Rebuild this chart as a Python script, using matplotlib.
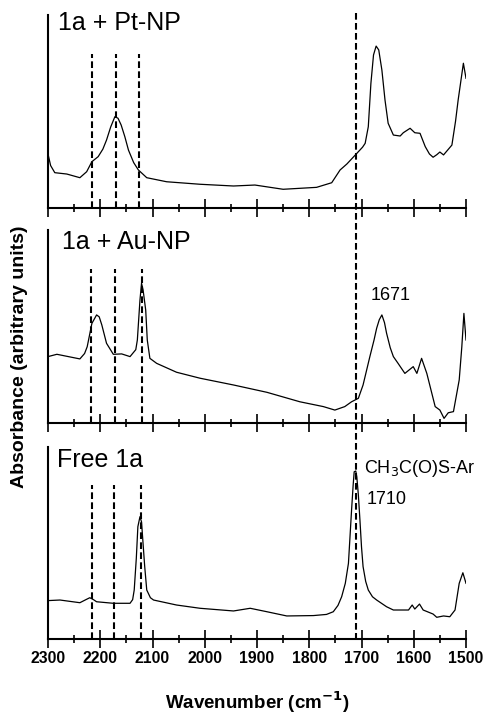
import matplotlib
matplotlib.use("Agg")
import matplotlib.pyplot as plt
from matplotlib.lines import Line2D
from matplotlib.ticker import MultipleLocator
import matplotlib.transforms as mtransforms

plt.rcParams['font.family'] = ['Liberation Sans', 'DejaVu Sans']

# ---------------- data (wavenumber in cm-1, absorbance arbitrary 0-100) ----------------
pt_wn = [2300, 2295, 2287, 2264, 2239, 2226, 2216, 2204, 2195, 2188, 2180, 2172, 2166, 2160,
         2153, 2146, 2136, 2127, 2111, 2073, 2009, 1945, 1904, 1850, 1786, 1757, 1741, 1728,
         1709, 1698, 1693, 1687, 1682, 1677, 1672, 1667, 1661, 1655, 1649, 1639, 1626, 1620,
         1607, 1598, 1588, 1578, 1570, 1563, 1556, 1550, 1543, 1527, 1520, 1515, 1505, 1500]
pt_abs = [28.0, 22.0, 18.3, 17.6, 15.7, 18.8, 24.0, 26.6, 30.5, 35.2, 42.0, 47.3, 46.5, 43.0,
          37.0, 30.0, 23.5, 19.7, 15.7, 13.6, 12.3, 11.4, 11.9, 9.7, 10.7, 13.1, 19.7, 22.8,
          28.3, 31.5, 33.5, 42.1, 64.6, 79.3, 83.9, 81.9, 71.5, 55.9, 43.9, 37.8, 37.3, 39.0,
          41.3, 39.0, 38.7, 31.8, 28.0, 26.3, 27.6, 29.0, 27.5, 32.6, 45.0, 56.0, 75.0, 67.2]

au_wn = [2300, 2283, 2239, 2230, 2225, 2216, 2207, 2202, 2197, 2188, 2175, 2159, 2143, 2132,
         2129, 2124, 2121, 2118, 2113, 2110, 2105, 2092, 2054, 2009, 1945, 1881, 1818, 1773,
         1751, 1732, 1719, 1706, 1697, 1684, 1676, 1671, 1666, 1661, 1656, 1652, 1645, 1639,
         1630, 1617, 1601, 1594, 1585, 1575, 1559, 1550, 1542, 1534, 1524, 1513, 1508, 1504,
         1500]
au_abs = [34.4, 35.6, 33.2, 36.0, 39.5, 51.6, 56.0, 55.0, 50.8, 41.3, 35.6, 35.8, 34.4, 38.0,
          43.0, 63.7, 72.4, 68.9, 58.5, 43.0, 33.5, 30.9, 26.3, 23.2, 19.7, 15.9, 11.0, 8.5,
          6.7, 8.5, 11.0, 12.8, 19.7, 34.4, 43.0, 49.1, 53.5, 56.0, 52.0, 46.5, 39.0, 34.4,
          30.9, 25.7, 29.2, 25.7, 33.5, 25.7, 8.5, 6.7, 2.4, 5.3, 5.9, 22.3, 39.5, 56.8, 43.0]

free_wn = [2300, 2277, 2239, 2226, 2220, 2213, 2207, 2175, 2143, 2138, 2135, 2131, 2128, 2124,
           2121, 2119, 2115, 2111, 2104, 2098, 2054, 2009, 1945, 1913, 1881, 1843, 1792, 1767,
           1754, 1745, 1738, 1731, 1725, 1719, 1716, 1714, 1711, 1709, 1706, 1703, 1700, 1697,
           1692, 1687, 1679, 1671, 1652, 1639, 1610, 1603, 1598, 1589, 1582, 1563, 1556, 1543,
           1531, 1521, 1513, 1506, 1500]
free_abs = [20.0, 20.3, 18.9, 20.7, 21.5, 20.5, 19.4, 18.6, 18.6, 20.5, 25.5, 42.0, 58.5, 63.7,
            61.0, 53.3, 38.0, 25.5, 21.5, 20.3, 17.7, 16.0, 14.6, 16.0, 14.2, 12.0, 12.2, 12.8,
            14.2, 17.5, 22.0, 29.0, 39.4, 67.2, 80.0, 87.1, 87.5, 84.5, 75.0, 62.0, 48.0, 37.7,
            30.0, 25.5, 22.0, 20.3, 16.8, 15.1, 15.1, 17.7, 15.6, 18.2, 15.1, 13.0, 11.3, 12.0,
            11.6, 15.1, 29.0, 34.5, 29.0]

pt_marks = [2216, 2169, 2126]
au_marks = [2217, 2172, 2120]
free_marks = [2216, 2173, 2122]
carbonyl_mark = 1710

panel_titles = ["1a + Pt-NP", "1a + Au-NP", "Free 1a"]
x_ticks = [2300, 2200, 2100, 2000, 1900, 1800, 1700, 1600, 1500]

# ---------------- figure ----------------
fig = plt.figure(figsize=(4.86, 7.15), dpi=100)
W, H = 486.0, 715.0
left, right = 48 / W, 466 / W
boxes = [(15, 208), (230, 423), (447, 639)]
axes = []
for top, bot in boxes:
    ax = fig.add_axes([left, 1 - bot / H, right - left, (bot - top) / H])
    axes.append(ax)

series = [(pt_wn, pt_abs, pt_marks), (au_wn, au_abs, au_marks), (free_wn, free_abs, free_marks)]
title_pos = [(2281, 95.9), (2273, 93.8), (2283, 93.2)]

for i, (ax, (wn, ab, marks)) in enumerate(zip(axes, series)):
    ax.plot(wn, ab, color='black', lw=0.9)
    for m in marks:
        ax.plot([m, m], [0, 80], color='black', lw=1.5, dashes=(3.2, 1.6))
    ax.set_xlim(2300, 1500)
    ax.set_ylim(0, 100)
    for s in ['top', 'right']:
        ax.spines[s].set_visible(False)
    for s in ['left', 'bottom']:
        ax.spines[s].set_linewidth(1.5)
    ax.set_yticks([])
    ax.set_xticks(x_ticks)
    ax.xaxis.set_minor_locator(MultipleLocator(50))
    ax.tick_params(axis='x', which='major', direction='inout', length=13, width=1.2, pad=2,
                   labelsize=11.3)
    ax.tick_params(axis='x', which='minor', direction='inout', length=6, width=1.2)
    if i < 2:
        ax.tick_params(axis='x', labelbottom=False)
    else:
        for lab in ax.get_xticklabels():
            lab.set_fontweight('bold')
    ax.text(title_pos[i][0], title_pos[i][1], panel_titles[i], fontsize=18,
            ha='left', va='center')

axes[1].text(1682, 66.3, "1671", fontsize=13, ha='left', va='center')
axes[2].text(1695, 89, r"CH$_3$C(O)S-Ar", fontsize=13, ha='left', va='center')
axes[2].text(1691, 72.4, "1710", fontsize=13, ha='left', va='center')

# long dashed line at 1710 across all panels
trans = mtransforms.blended_transform_factory(axes[2].transData, fig.transFigure)
fig.add_artist(Line2D([carbonyl_mark, carbonyl_mark], [1 - 13 / H, 1 - 639 / H],
                      transform=trans, color='black', lw=1.5, dashes=(3.2, 1.6)))

fig.text(20 / W, 1 - 357 / H, "Absorbance (arbitrary units)", rotation=90,
         ha='center', va='center', fontsize=14, fontweight='bold')
fig.text(257 / W, 1 - 702 / H, r"Wavenumber (cm$^{\mathbf{-1}}$)", ha='center', va='center',
         fontsize=13.5, fontweight='bold')

fig.savefig("out.png", dpi=100)
